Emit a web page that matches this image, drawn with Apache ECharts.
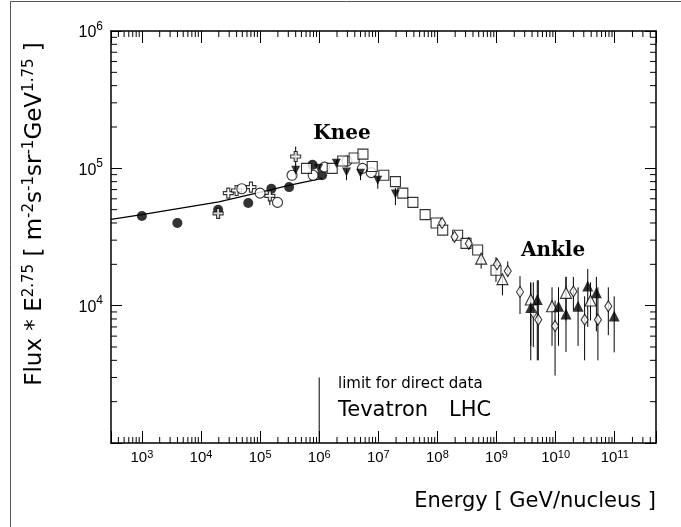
<!DOCTYPE html>
<html>
<head>
<meta charset="utf-8">
<title>Cosmic ray all-particle spectrum</title>
<script src="https://cdn.jsdelivr.net/npm/echarts@6/dist/echarts.min.js"></script>
<style>
  html, body { margin: 0; padding: 0; background: #fff; }
  #chart { width: 681px; height: 527px; }
</style>
</head>
<body>
<div id="chart"></div>
<script>
// axis ranges (GeV/nucleus, flux * E^2.75)
const xMin = 300
const xMax = 5e11
const yMin = 1e3
const yMax = 1e6

// [energy, flux]
const filledCircles = [[1e3, 4.5e4], [3.98e3, 4.0e4], [1.95e4, 5.0e4], [6.3e4, 5.6e4], [1.55e5, 7.1e4], [3.1e5, 7.3e4], [7.7e5, 1.06e5], [1.12e6, 8.9e4]]
const openCrosses = [[1.95e4, 4.7e4], [2.9e4, 6.6e4], [4.0e4, 6.9e4], [7.0e4, 7.3e4], [1.46e5, 6.3e4], [4.0e5, 1.22e5]]
const openCircles = [[4.9e4, 7.1e4], [1.0e5, 6.6e4], [1.97e5, 5.65e4], [3.47e5, 8.9e4], [7.9e5, 8.9e4], [1.23e6, 1.02e5], [2.95e6, 1.13e5], [5.4e6, 1.0e5], [7.6e6, 9.3e4]]
const downTriangles = [[4.0e5, 9.7e4], [9.8e5, 1.0e5], [1.95e6, 1.09e5], [2.9e6, 9.4e4], [5.0e6, 9.2e4], [9.8e6, 8.2e4], [1.95e7, 6.5e4]]
const openSquares = [[6.1e5, 1.0e5], [1.66e6, 1.0e5], [2.5e6, 1.13e5], [3.9e6, 1.19e5], [5.5e6, 1.27e5], [7.9e6, 1.03e5], [1.24e7, 8.9e4], [1.95e7, 8.0e4], [2.6e7, 6.6e4], [3.85e7, 5.65e4], [6.2e7, 4.6e4], [9.5e7, 4.0e4], [1.23e8, 3.55e4], [2.2e8, 3.26e4], [3.05e8, 2.84e4], [4.8e8, 2.54e4], [9.8e8, 1.81e4]]
const openDiamonds = [[1.2e8, 4.0e4], [1.95e8, 3.17e4], [3.4e8, 2.84e4], [1.02e9, 2.0e4], [1.55e9, 1.79e4], [2.5e9, 1.26e4], [4.2e9, 8.9e3], [5.1e9, 7.9e3], [9.8e9, 7.1e3], [2.0e10, 1.27e4], [3.1e10, 7.9e3], [5.2e10, 7.9e3], [7.8e10, 9.9e3]]
const openTriangles = [[5.5e8, 2.2e4], [1.26e9, 1.56e4], [3.8e9, 1.11e4], [8.7e9, 9.9e3], [1.5e10, 1.24e4], [3.9e10, 1.09e4]]
const filledTriangles = [[3.8e9, 9.7e3], [4.9e9, 1.11e4], [1.12e10, 9.9e3], [1.5e10, 8.7e3], [2.4e10, 9.9e3], [3.5e10, 1.39e4], [4.9e10, 1.24e4], [9.8e10, 8.4e3]]

// [energy, low, high]
const errorBars = [
  [1.95e4, 4.3e4, 4.7e4], [1.46e5, 5.4e4, 6.3e4], [4.0e5, 1.06e5, 1.44e5],
  [4.0e5, 8.6e4, 1.08e5], [1.95e6, 1.0e5, 1.15e5], [2.9e6, 8.2e4, 9.8e4], [5.0e6, 8.2e4, 9.6e4],
  [9.8e6, 7.1e4, 8.6e4], [1.95e7, 5.4e4, 7.2e4], [2.95e6, 1.03e5, 1.23e5],
  [1.95e8, 2.9e4, 3.5e4], [3.4e8, 2.55e4, 3.15e4], [5.5e8, 1.86e4, 2.45e4], [9.8e8, 1.49e4, 2.26e4],
  [1.02e9, 1.8e4, 2.2e4], [1.26e9, 1.19e4, 1.7e4], [1.55e9, 1.63e4, 2.1e4],
  [2.5e9, 8.7e3, 1.64e4], [3.8e9, 5.1e3, 1.48e4], [3.8e9, 4.0e3, 1.46e4], [4.2e9, 5.0e3, 1.48e4],
  [4.9e9, 4.0e3, 1.53e4], [5.1e9, 4.0e3, 1.53e4], [8.7e9, 5.1e3, 1.36e4], [9.8e9, 3.1e3, 1.09e4],
  [1.12e10, 5.1e3, 1.36e4], [1.5e10, 7.8e3, 1.62e4], [1.5e10, 4.6e3, 1.62e4], [2.0e10, 9.25e3, 1.62e4],
  [2.4e10, 5.1e3, 1.36e4], [3.1e10, 4.0e3, 1.17e4], [3.5e10, 7.0e3, 1.85e4], [3.9e10, 7.8e3, 1.48e4],
  [4.9e10, 6.5e3, 1.62e4], [5.2e10, 4.0e3, 1.36e4], [7.8e10, 6.1e3, 1.36e4], [9.8e10, 4.57e3, 1.17e4]
]

// fitted curve below the knee
const fitCurve = [[300, 4.25e4], [1e3, 4.6e4], [2e4, 5.7e4], [1.55e5, 7.0e4], [3.2e5, 7.55e4], [1.12e6, 8.45e4]]

// direct-measurement limit marker
const directLimit = [[1e6, 1e3], [1e6, 3.0e3]]

// minor tick positions
const minorSteps = [2, 3, 4, 5, 6, 7, 8, 9]
const xMinorTicks = []
for (let d = 2; d <= 11; d++) {
  minorSteps.forEach(m => {
    const v = m * Math.pow(10, d)
    if (v > xMin && v < xMax) xMinorTicks.push(v)
  })
}
const yMinorTicks = []
for (let d = 3; d <= 5; d++) {
  minorSteps.forEach(m => yMinorTicks.push(m * Math.pow(10, d)))
}

const chart = echarts.init(document.getElementById('chart'))

function powLabel(hideMin) {
  return function (v) {
    const e = Math.log10(v)
    const n = Math.round(e)
    if (Math.abs(e - n) > 1e-6) return ''
    if (hideMin && n === 3) return ''
    return '{b|10}{s|' + n + '}'
  }
}

function xMinorTick(params, api) {
  const x = api.coord([api.value(0), yMin])[0]
  const cs = params.coordSys
  const bottom = cs.y + cs.height
  const st = { stroke: '#000', lineWidth: 1 }
  return {
    type: 'group',
    children: [
      { type: 'line', shape: { x1: x, y1: bottom, x2: x, y2: bottom - 6 }, style: st },
      { type: 'line', shape: { x1: x, y1: cs.y, x2: x, y2: cs.y + 6 }, style: st }
    ]
  }
}

function yMinorTick(params, api) {
  const y = api.coord([xMin, api.value(1)])[1]
  const cs = params.coordSys
  const right = cs.x + cs.width
  const st = { stroke: '#000', lineWidth: 1 }
  return {
    type: 'group',
    children: [
      { type: 'line', shape: { x1: cs.x, y1: y, x2: cs.x + 6, y2: y }, style: st },
      { type: 'line', shape: { x1: right, y1: y, x2: right - 6, y2: y }, style: st }
    ]
  }
}

function errorBar(params, api) {
  const lo = api.coord([api.value(0), api.value(1)])
  const hi = api.coord([api.value(0), api.value(2)])
  return {
    type: 'line',
    shape: { x1: lo[0], y1: lo[1], x2: hi[0], y2: hi[1] },
    style: { stroke: '#000', lineWidth: 1 }
  }
}

const crossPath = 'path://M3.5,0 L6.5,0 L6.5,3.5 L10,3.5 L10,6.5 L6.5,6.5 L6.5,10 L3.5,10 L3.5,6.5 L0,6.5 L0,3.5 L3.5,3.5 Z'
const openStyle = { color: '#fff', borderColor: '#000', borderWidth: 1.1 }
const fillStyle = { color: '#000' }

const axisLineStyle = { lineStyle: { color: '#000', width: 1.5 } }

const yTitleRich = {
  m: { fontSize: 23, fontFamily: 'DejaVu Sans', color: '#000' },
  s: { fontSize: 15, fontFamily: 'DejaVu Sans', color: '#000', padding: [0, 0, 11, 0] }
}

chart.setOption({
  animation: false,
  backgroundColor: '#fff',
  grid: { left: 111, right: 25, top: 31, bottom: 84 },
  xAxis: [
    {
      type: 'log', logBase: 10, min: xMin, max: xMax, position: 'bottom',
      axisLine: axisLineStyle,
      axisTick: { inside: true, length: 12, lineStyle: { color: '#000', width: 1 } },
      splitLine: { show: false },
      axisLabel: {
        margin: 6,
        formatter: powLabel(false),
        rich: {
          b: { fontSize: 15, fontFamily: 'Liberation Sans', color: '#000' },
          s: { fontSize: 11, fontFamily: 'Liberation Sans', color: '#000', padding: [0, 0, 7, 0] }
        }
      }
    },
    {
      type: 'log', logBase: 10, min: xMin, max: xMax, position: 'top',
      axisLine: axisLineStyle,
      axisTick: { inside: true, length: 12, lineStyle: { color: '#000', width: 1 } },
      splitLine: { show: false },
      axisLabel: { show: false }
    }
  ],
  yAxis: [
    {
      type: 'log', logBase: 10, min: yMin, max: yMax, position: 'left',
      axisLine: axisLineStyle,
      axisTick: { inside: true, length: 11, lineStyle: { color: '#000', width: 1 } },
      splitLine: { show: false },
      axisLabel: {
        margin: 8,
        formatter: powLabel(true),
        rich: {
          b: { fontSize: 16, fontFamily: 'Liberation Sans', color: '#000', padding: [4, 0, 0, 0] },
          s: { fontSize: 12, fontFamily: 'Liberation Sans', color: '#000', padding: [0, 0, 9, 0] }
        }
      }
    },
    {
      type: 'log', logBase: 10, min: yMin, max: yMax, position: 'right',
      axisLine: axisLineStyle,
      axisTick: { inside: true, length: 11, lineStyle: { color: '#000', width: 1 } },
      splitLine: { show: false },
      axisLabel: { show: false }
    }
  ],
  graphic: [
    { type: 'polyline', shape: { points: [[10.5, 540], [10.5, 1.5], [690, 1.5]] }, style: { stroke: '#555', lineWidth: 1, fill: null } },
    { type: 'text', x: 342, y: 134, style: { text: 'Knee', font: 'bold 20px "DejaVu Serif"', fill: '#000', align: 'center', verticalAlign: 'middle' } },
    { type: 'text', x: 553, y: 251, style: { text: 'Ankle', font: 'bold 20px "DejaVu Serif"', fill: '#000', align: 'center', verticalAlign: 'middle' } },
    { type: 'text', x: 338, y: 384, style: { text: 'limit for direct data', font: '15px "DejaVu Sans"', fill: '#000', align: 'left', verticalAlign: 'middle' } },
    { type: 'text', x: 338, y: 411, style: { text: 'Tevatron', font: '21px "DejaVu Sans"', fill: '#000', align: 'left', verticalAlign: 'middle' } },
    { type: 'text', x: 449, y: 411, style: { text: 'LHC', font: '21px "DejaVu Sans"', fill: '#000', align: 'left', verticalAlign: 'middle' } },
    { type: 'text', x: 656, y: 502, style: { text: 'Energy [ GeV/nucleus ]', font: '21px "DejaVu Sans"', fill: '#000', align: 'right', verticalAlign: 'middle' } },
    {
      type: 'text', x: 35, y: 214, rotation: Math.PI / 2,
      style: {
        text: '{m|Flux * E}{s|2.75}{m| [ m}{s|-2}{m|s}{s|-1}{m|sr}{s|-1}{m|GeV}{s|1.75}{m| ]}',
        rich: yTitleRich, align: 'center', verticalAlign: 'middle'
      }
    }
  ],
  series: [
    { type: 'custom', name: 'xMinor', renderItem: xMinorTick, data: xMinorTicks.map(v => [v, yMin]), encode: { x: 0, y: 1 }, silent: true, z: 1 },
    { type: 'custom', name: 'yMinor', renderItem: yMinorTick, data: yMinorTicks.map(v => [xMin, v]), encode: { x: 0, y: 1 }, silent: true, z: 1 },
    { type: 'line', name: 'fit', data: fitCurve, showSymbol: false, lineStyle: { color: '#000', width: 1.2 }, z: 2 },
    { type: 'line', name: 'limit', data: directLimit, showSymbol: false, lineStyle: { color: '#000', width: 1 }, z: 2 },
    { type: 'custom', name: 'errors', renderItem: errorBar, data: errorBars, encode: { x: 0, y: [1, 2] }, z: 3 },
    { type: 'scatter', name: 'filledCircles', data: filledCircles, symbol: 'circle', symbolSize: 10, itemStyle: fillStyle, z: 4 },
    { type: 'scatter', name: 'openCrosses', data: openCrosses, symbol: crossPath, symbolSize: 10, itemStyle: openStyle, z: 4 },
    { type: 'scatter', name: 'openCircles', data: openCircles, symbol: 'circle', symbolSize: 10, itemStyle: openStyle, z: 4 },
    { type: 'scatter', name: 'openSquares', data: openSquares, symbol: 'rect', symbolSize: 10, itemStyle: openStyle, z: 4 },
    { type: 'scatter', name: 'downTriangles', data: downTriangles, symbol: 'triangle', symbolRotate: 180, symbolSize: 9, itemStyle: fillStyle, z: 5 },
    { type: 'scatter', name: 'openDiamonds', data: openDiamonds, symbol: 'diamond', symbolSize: [7, 11], itemStyle: openStyle, z: 4 },
    { type: 'scatter', name: 'openTriangles', data: openTriangles, symbol: 'triangle', symbolSize: 11, itemStyle: openStyle, z: 4 },
    { type: 'scatter', name: 'filledTriangles', data: filledTriangles, symbol: 'triangle', symbolSize: 11, itemStyle: fillStyle, z: 5 }
  ]
})
</script>
</body>
</html>
